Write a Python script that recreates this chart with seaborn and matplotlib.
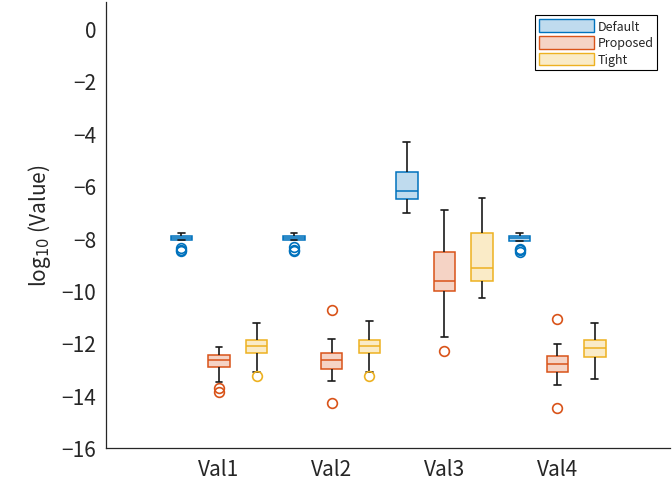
import pandas as pd
import matplotlib
matplotlib.use("Agg")
import matplotlib.pyplot as plt
import seaborn as sns
from matplotlib.patches import Patch
from matplotlib.colors import to_rgba

# categories and hand-read sample values (log10 scale) per method
categories = ["Val1", "Val2", "Val3", "Val4"]
methods = ["Default", "Proposed", "Tight"]

default_vals = [
    [-8.5, -8.45, -8.38, -8.08, -8.05, -8.02, -7.99, -7.97, -7.95, -7.92, -7.88, -7.84, -7.79],
    [-8.5, -8.44, -8.36, -8.08, -8.05, -8.01, -7.98, -7.96, -7.94, -7.92, -7.88, -7.84, -7.79],
    [-7.03, -6.8, -6.6, -6.51, -6.4, -6.3, -6.2, -6.0, -5.7, -5.47, -5.1, -4.8, -4.35],
    [-8.52, -8.45, -8.4, -8.1, -8.07, -8.03, -8.0, -7.98, -7.96, -7.93, -7.9, -7.86, -7.82],
]
proposed_vals = [
    [-13.85, -13.7, -13.5, -12.92, -12.8, -12.72, -12.66, -12.58, -12.5, -12.44, -12.35, -12.25, -12.15],
    [-14.27, -13.46, -13.2, -12.98, -12.85, -12.75, -12.66, -12.55, -12.45, -12.37, -12.1, -11.86, -10.73],
    [-12.32, -11.77, -10.8, -10.03, -9.9, -9.75, -9.63, -9.3, -8.9, -8.55, -8.0, -7.5, -6.93],
    [-14.48, -13.61, -13.3, -13.1, -12.98, -12.88, -12.8, -12.7, -12.6, -12.49, -12.25, -12.04, -11.07],
]
tight_vals = [
    [-13.25, -13.1, -12.7, -12.38, -12.3, -12.2, -12.12, -12.05, -11.95, -11.88, -11.7, -11.45, -11.22],
    [-13.25, -13.1, -12.75, -12.4, -12.3, -12.2, -12.12, -12.05, -11.96, -11.88, -11.65, -11.4, -11.17],
    [-10.28, -10.0, -9.8, -9.64, -9.5, -9.3, -9.13, -8.8, -8.3, -7.82, -7.4, -6.9, -6.49],
    [-13.36, -13.0, -12.7, -12.53, -12.4, -12.28, -12.19, -12.1, -12.0, -11.9, -11.7, -11.45, -11.22],
]

edge_colors = ["#0072BD", "#D95319", "#EDB120"]

rows = []
for method, series in zip(methods, [default_vals, proposed_vals, tight_vals]):
    for cat, vals in zip(categories, series):
        for v in vals:
            rows.append({"cat": cat, "method": method, "value": v})
df = pd.DataFrame(rows)

sns.set_style("white")
plt.rcParams["font.family"] = ["Noto Sans CJK JP", "DejaVu Sans"]

fig = plt.figure(figsize=(6.72, 4.89), dpi=100)
ax = fig.add_axes([0.158, 0.082, 0.839, 0.912])

sns.boxplot(
    data=df, x="cat", y="value", hue="method",
    order=categories, hue_order=methods,
    palette=edge_colors, width=1.0, gap=0.43, whis=1.5,
    linewidth=1.1, legend=False, ax=ax,
)

# MATLAB boxchart-like styling per method
for cont, col in zip(ax.containers, edge_colors):
    for box in cont.boxes:
        box.set_facecolor(to_rgba(col, 0.25))
        box.set_edgecolor(col)
        box.set_linewidth(1.1)
    for med in cont.medians:
        med.set_color(col)
        med.set_linewidth(1.1)
    for w in cont.whiskers:
        w.set_color("#1a1a1a")
        w.set_linewidth(1.2)
    for cap in cont.caps:
        cap.set_color("#1a1a1a")
        cap.set_linewidth(1.2)
        x = cap.get_xdata()
        c = (x[0] + x[1]) / 2
        cap.set_xdata([c - 0.03, c + 0.03])
    for fl in cont.fliers:
        fl.set_marker("o")
        fl.set_markersize(7)
        fl.set_markerfacecolor("none")
        fl.set_markeredgecolor(col)
        fl.set_markeredgewidth(1.2)

ax.set_xlim(-1, 4)
ax.set_ylim(-16, 1)
ax.set_yticks(range(-16, 1, 2))
ax.set_xlabel("")
ax.set_ylabel("log$_{10}$ (Value)", fontsize=15, color="#262626", labelpad=6)

sns.despine(ax=ax)
for s in ["left", "bottom"]:
    ax.spines[s].set_color("#262626")
    ax.spines[s].set_linewidth(0.9)
ax.tick_params(direction="in", length=4, width=0.9, colors="#262626",
               labelsize=15, pad=7)

handles = [Patch(facecolor=to_rgba(c, 0.25), edgecolor=c, linewidth=1.0, label=m)
           for c, m in zip(edge_colors, methods)]
leg = ax.legend(handles=handles, loc="upper right", bbox_to_anchor=(0.977, 0.97),
                fontsize=9, frameon=True, fancybox=False, framealpha=1,
                edgecolor="black", handlelength=4.4, handleheight=1.2,
                labelspacing=0.25, handletextpad=0.25, borderpad=0.3,
                borderaxespad=0)
leg.get_frame().set_linewidth(0.8)

fig.savefig("out.png", dpi=100)
plt.close(fig)
